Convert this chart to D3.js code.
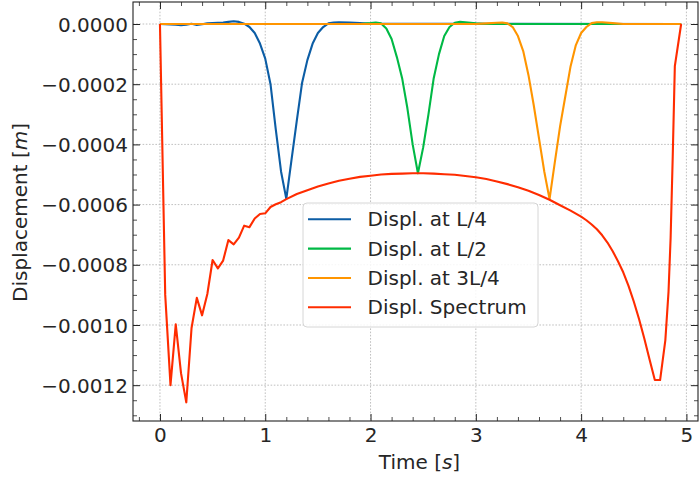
<!DOCTYPE html>
<html>
<head>
<meta charset="utf-8">
<script src="https://cdn.jsdelivr.net/npm/d3@7"></script>
<style>
html,body{margin:0;padding:0;background:#fff;}
svg{display:block;}
text{font-family:"DejaVu Sans",sans-serif;fill:#262626;}
</style>
</head>
<body>
<svg id="chart" width="700" height="479"></svg>
<script>
// ---- data ----
const seriesNames = ["Displ. at L/4", "Displ. at L/2", "Displ. at 3L/4", "Displ. Spectrum"];
const seriesColors = ["#0C5DA5", "#00B945", "#FF9500", "#FF2C00"];

const blueT = [0, 0.15, 0.2, 0.25, 0.3, 0.35, 0.4, 0.45, 0.5, 0.55, 0.6, 0.65, 0.7, 0.75, 0.8, 0.85, 0.9, 0.95, 1.0, 1.05, 1.1, 1.15, 1.2, 1.25, 1.3, 1.35, 1.4, 1.45, 1.5, 1.55, 1.6, 1.65, 1.7, 1.8, 1.9, 2.0, 4.95];
const blueV = [0, -2e-6, -4e-6, -2e-6, 1e-6, -3e-6, -1e-6, 2e-6, 3e-6, 4e-6, 5e-6, 7e-6, 9e-6, 7e-6, 1e-6, -1e-5, -3e-5, -6.5e-5, -1.15e-4, -2.0e-4, -3.5e-4, -4.9e-4, -5.81e-4, -4.5e-4, -3.2e-4, -1.95e-4, -1.2e-4, -6.5e-5, -3e-5, -1e-5, 2e-6, 5e-6, 6e-6, 5e-6, 3e-6, 1e-6, 0];

const greenT = [0, 1.9, 2.0, 2.05, 2.1, 2.15, 2.2, 2.25, 2.3, 2.35, 2.4, 2.45, 2.5, 2.55, 2.6, 2.65, 2.7, 2.75, 2.8, 2.85, 2.9, 2.95, 3.0, 3.1, 4.95];
const greenV = [0, 0, 3e-6, 5e-6, 2e-6, -1.5e-5, -5e-5, -1.1e-4, -1.8e-4, -2.8e-4, -4.0e-4, -4.96e-4, -4.1e-4, -3.0e-4, -1.8e-4, -1.0e-4, -4e-5, -1e-5, 4e-6, 7e-6, 6e-6, 4e-6, 2e-6, 0, 0];

const orangeT = [0, 3.0, 3.1, 3.2, 3.25, 3.3, 3.35, 3.4, 3.45, 3.5, 3.55, 3.6, 3.65, 3.7, 3.75, 3.8, 3.85, 3.9, 3.95, 4.0, 4.05, 4.1, 4.15, 4.2, 4.3, 4.4, 4.95];
const orangeV = [0, 0, 2e-6, 4e-6, 5e-6, 2e-6, -1e-5, -4e-5, -9e-5, -1.7e-4, -2.7e-4, -3.8e-4, -4.9e-4, -5.82e-4, -4.6e-4, -3.4e-4, -2.4e-4, -1.4e-4, -7e-5, -3e-5, -1e-5, 3e-6, 6e-6, 6e-6, 3e-6, 0, 0];

const redT = [0, 0.05, 0.1, 0.15, 0.2, 0.25, 0.3, 0.35, 0.4, 0.45, 0.5, 0.55, 0.6, 0.65, 0.7, 0.75, 0.8, 0.85, 0.9, 0.95, 1.0, 1.05, 1.1, 1.15, 1.2,
  1.3, 1.4, 1.5, 1.6, 1.7, 1.8, 1.9, 2.0, 2.1, 2.2, 2.3, 2.4, 2.5, 2.6, 2.7, 2.8, 2.9, 3.0, 3.1, 3.2, 3.3, 3.4, 3.5, 3.6, 3.7, 3.8, 3.9, 4.0,
  4.05, 4.1, 4.15, 4.2, 4.25, 4.3, 4.35, 4.4, 4.45, 4.5, 4.55, 4.6, 4.65, 4.7, 4.75, 4.8, 4.83, 4.85, 4.87, 4.89, 4.95];
const redV = [0, -9.0e-4, -1.2e-3, -9.98e-4, -1.16e-3, -1.257e-3, -1.01e-3, -9.1e-4, -9.68e-4, -8.97e-4, -7.84e-4, -8.12e-4, -7.86e-4, -7.18e-4, -7.32e-4, -7.1e-4, -6.7e-4, -6.75e-4, -6.46e-4, -6.31e-4, -6.29e-4, -6.08e-4, -5.99e-4, -5.92e-4, -5.82e-4,
  -5.65e-4, -5.52e-4, -5.40e-4, -5.30e-4, -5.21e-4, -5.14e-4, -5.08e-4, -5.04e-4, -5.00e-4, -4.98e-4, -4.97e-4, -4.96e-4, -4.96e-4, -4.97e-4, -4.99e-4, -5.01e-4, -5.05e-4, -5.09e-4, -5.15e-4, -5.23e-4, -5.32e-4, -5.42e-4, -5.54e-4, -5.68e-4, -5.84e-4, -6.02e-4, -6.20e-4, -6.40e-4,
  -6.52e-4, -6.66e-4, -6.82e-4, -7.02e-4, -7.26e-4, -7.55e-4, -7.88e-4, -8.25e-4, -8.70e-4, -9.22e-4, -9.80e-4, -1.045e-3, -1.115e-3, -1.183e-3, -1.183e-3, -1.05e-3, -8.9e-4, -7.1e-4, -4.4e-4, -1.4e-4, 0];

const xTicks = [0, 1, 2, 3, 4, 5];
const yTicks = [0, -0.0002, -0.0004, -0.0006, -0.0008, -0.0010, -0.0012];
const xLabel = "Time [";
const xLabelUnit = "s";
const yLabel = "Displacement [";
const yLabelUnit = "m";

// ---- layout ----
const L = 133, R = 698, T = 2, B = 421;
const svg = d3.select("#chart");
const x = d3.scaleLinear().domain([-0.256, 5.11]).range([L, R]);
const y = d3.scaleLinear().domain([-0.001319, 0.0000731]).range([B, T]);

const series = [
  {t: blueT, v: blueV},
  {t: greenT, v: greenV},
  {t: orangeT, v: orangeV},
  {t: redT, v: redV}
].map((s, i) => ({name: seriesNames[i], color: seriesColors[i], pts: s.t.map((tt, k) => [tt, s.v[k]])}));

// grid
const grid = svg.append("g");
grid.selectAll("line.gx").data(xTicks).join("line")
  .attr("x1", d => x(d)).attr("x2", d => x(d)).attr("y1", T).attr("y2", B)
  .attr("stroke", "#b0b0b0").attr("stroke-width", 0.8).attr("stroke-dasharray", "1.6,1.6");
grid.selectAll("line.gy").data(yTicks).join("line")
  .attr("y1", d => y(d)).attr("y2", d => y(d)).attr("x1", L).attr("x2", R)
  .attr("stroke", "#b0b0b0").attr("stroke-width", 0.8).attr("stroke-dasharray", "1.6,1.6");

// lines
const line = d3.line().x(d => x(d[0])).y(d => y(d[1]));
svg.append("g").selectAll("path").data(series).join("path")
  .attr("d", d => line(d.pts)).attr("fill", "none")
  .attr("stroke", d => d.color).attr("stroke-width", 2.1)
  .attr("stroke-linejoin", "round").attr("stroke-linecap", "butt");

// axes with inward ticks on all sides
const fmtY = d3.format(".4f");
const xMinor = d3.range(-0.2, 5.11, 0.2).filter(v => Math.abs(v - Math.round(v)) > 1e-6);
const yMinor = d3.range(0, -0.00132, -0.00005).filter(v => Math.abs(v / 0.0002 - Math.round(v / 0.0002)) > 1e-6);

function addAxis(axisFn, scale, pos, ticks, minor, fmt, showLabels) {
  const major = axisFn(scale).tickValues(ticks).tickSizeInner(-7).tickSizeOuter(0).tickPadding(0)
    .tickFormat(showLabels ? fmt : () => "");
  const g = svg.append("g").attr("transform", pos).call(major);
  g.select(".domain").remove();
  g.selectAll(".tick line").attr("stroke", "#222").attr("stroke-width", 1);
  const mn = axisFn(scale).tickValues(minor).tickSizeInner(-4).tickSizeOuter(0).tickFormat(() => "");
  const g2 = svg.append("g").attr("transform", pos).call(mn);
  g2.select(".domain").remove();
  g2.selectAll(".tick line").attr("stroke", "#222").attr("stroke-width", 0.8);
  return g;
}
const gx = addAxis(d3.axisBottom, x, `translate(0,${B})`, xTicks, xMinor, d3.format("d"), true);
gx.selectAll(".tick text").attr("font-size", 20).attr("font-family", "DejaVu Sans").attr("fill", "#262626")
  .attr("y", 21).attr("dy", 0);
addAxis(d3.axisTop, x, `translate(0,${T})`, xTicks, xMinor, null, false);
const gy = addAxis(d3.axisLeft, y, `translate(${L},0)`, yTicks, yMinor, fmtY, true);
gy.selectAll(".tick text").attr("font-size", 20).attr("font-family", "DejaVu Sans").attr("fill", "#262626")
  .attr("x", -5).attr("dy", "0.36em");
addAxis(d3.axisRight, y, `translate(${R},0)`, yTicks, yMinor, null, false);

// frame
svg.append("rect").attr("x", L).attr("y", T).attr("width", R - L).attr("height", B - T)
  .attr("fill", "none").attr("stroke", "#222").attr("stroke-width", 1.1);

// axis labels
const xl = svg.append("text").attr("x", (L + R) / 2 + 4).attr("y", 469).attr("text-anchor", "middle").attr("font-size", 20);
xl.append("tspan").text(xLabel);
xl.append("tspan").attr("font-style", "italic").text(xLabelUnit);
xl.append("tspan").text("]");
const yl = svg.append("text").attr("transform", `translate(27,${(T + B) / 2 + 1}) rotate(-90)`).attr("text-anchor", "middle").attr("font-size", 20);
yl.append("tspan").text(yLabel);
yl.append("tspan").attr("font-style", "italic").text(yLabelUnit);
yl.append("tspan").text("]");

// legend
const lg = svg.append("g");
lg.append("rect").attr("x", 303).attr("y", 203).attr("width", 235).attr("height", 124).attr("rx", 4)
  .attr("fill", "#fff").attr("fill-opacity", 0.85).attr("stroke", "#d6d6d6").attr("stroke-width", 1);
const rowY = d3.scaleLinear().domain([0, 3]).range([219.3, 307.3]);
const items = lg.selectAll("g.item").data(series).join("g").attr("transform", (d, i) => `translate(0,${rowY(i)})`);
items.append("line").attr("x1", 308).attr("x2", 351).attr("y1", 0).attr("y2", 0)
  .attr("stroke", d => d.color).attr("stroke-width", 2.1);
items.append("text").attr("x", 367.5).attr("y", 7).attr("font-size", 20).text(d => d.name);
</script>
</body>
</html>
